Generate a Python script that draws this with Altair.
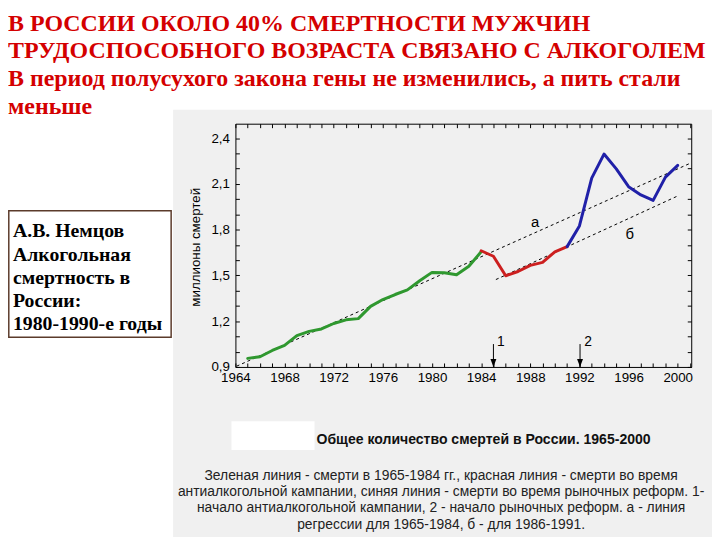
import altair as alt
import pandas as pd

# ---------------- data ----------------
years_green = list(range(1965, 1985))
deaths_green = [0.956, 0.967, 1.008, 1.041, 1.105, 1.133, 1.149, 1.185, 1.209, 1.217,
                1.297, 1.342, 1.375, 1.405, 1.465, 1.520, 1.518, 1.504, 1.560, 1.655]
years_red = list(range(1984, 1992))
deaths_red = [1.662, 1.626, 1.498, 1.526, 1.566, 1.586, 1.655, 1.689]
years_blue = list(range(1991, 2001))
deaths_blue = [1.689, 1.825, 2.138, 2.296, 2.199, 2.082, 2.028, 1.992, 2.145, 2.222]

reg_a_years = [1964.1, 2001.0]
reg_a_vals = [0.905, 2.235]
reg_b_years = [1985.2, 2000.1]
reg_b_vals = [1.473, 2.025]

reg_labels = ["а", "б"]
reg_label_years = [1988.4, 1996.1]
reg_label_vals = [1.852, 1.774]

arrow_years = [1985.0, 1992.05]
arrow_top = [1.05, 1.05]
arrow_bottom = [0.9, 0.9]
arrow_labels = ["1", "2"]
arrow_label_years = [1985.6, 1992.7]
arrow_label_vals = [1.062, 1.062]

x_label_years = [1964, 1968, 1972, 1976, 1980, 1984, 1988, 1992, 1996, 2000]
x_tick_years = list(range(1964, 2002))
y_label_vals = [0.9, 1.2, 1.5, 1.8, 2.1, 2.4]
y_tick_vals = [0.9, 1.0, 1.1, 1.2, 1.3, 1.4, 1.5, 1.6, 1.7, 1.8, 1.9, 2.0, 2.1, 2.2, 2.3, 2.4]

title_lines = [
    "В РОССИИ ОКОЛО 40% СМЕРТНОСТИ  МУЖЧИН",
    "ТРУДОСПОСОБНОГО ВОЗРАСТА СВЯЗАНО С АЛКОГОЛЕМ",
    "В период полусухого закона гены не изменились, а пить стали",
    "меньше",
]
box_lines = ["А.В. Немцов", "Алкогольная", "смертность в", "России:", "1980-1990-е годы"]
y_title = "миллионы смертей"
caption_title = "Общее количество смертей в России. 1965-2000"
caption_lines = [
    "Зеленая линия - смерти в 1965-1984 гг., красная линия - смерти во время",
    "антиалкогольной кампании, синяя линия - смерти во время рыночных реформ. 1-",
    "начало антиалкогольной кампании, 2 - начало рыночных реформ. а - линия",
    "регрессии для 1965-1984, б - для 1986-1991.",
]

# ---------------- layout ----------------
W, H = 461, 246
PL, PT = 230, 114
OX, OY = PL + 8, PT + 8   # page position of plot origin


def px(X):
    return X - OX


def py(Y):
    return Y - OY


xs = alt.Scale(domain=[1964, 2001.1], nice=False, zero=False)
ys = alt.Scale(domain=[0.9, 2.495], nice=False, zero=False)
SANS = "Liberation Sans"
SERIF = "Liberation Serif"

one = pd.DataFrame({"k": [0]})


def XY(df, xaxis=None, yaxis=None, xf="year", yf="val"):
    return dict(x=alt.X(f"{xf}:Q", scale=xs, axis=xaxis),
                y=alt.Y(f"{yf}:Q", scale=ys, axis=yaxis))


common = dict(grid=False, title=None, zindex=1)

# background panel
panel = alt.Chart(one).mark_rect(fill="#f0f0f0").encode(
    x=alt.value(px(175)), x2=alt.value(px(720)), y=alt.value(py(108)), y2=alt.value(py(540)))
white_box = alt.Chart(one).mark_rect(fill="white").encode(
    x=alt.value(px(234)), x2=alt.value(px(318)), y=alt.value(py(423)), y2=alt.value(py(452)))
left_box = alt.Chart(one).mark_rect(fill="white", stroke="#5b3b2b", strokeWidth=1.5).encode(
    x=alt.value(px(8.8)), x2=alt.value(px(173)), y=alt.value(py(210)), y2=alt.value(py(338)))

title_txt = alt.Chart(one).mark_text(
    text=title_lines, font=SERIF, fontWeight="bold", fontSize=24.2, color="#d40000",
    align="left", baseline="alphabetic", lineHeight=28).encode(
    x=alt.value(px(8)), y=alt.value(py(28)))
box_txt = alt.Chart(one).mark_text(
    text=box_lines, font=SERIF, fontWeight="bold", fontSize=20, color="black",
    align="left", baseline="alphabetic", lineHeight=23.5).encode(
    x=alt.value(px(13)), y=alt.value(py(237)))
ytitle_txt = alt.Chart(one).mark_text(
    text=y_title, font=SANS, fontSize=13.5, color="black", angle=270,
    align="center", baseline="middle").encode(
    x=alt.value(px(198)), y=alt.value(py(247)))
cap_title_txt = alt.Chart(one).mark_text(
    text=caption_title, font=SANS, fontWeight="bold", fontSize=14.2, color="#111",
    align="left", baseline="alphabetic").encode(
    x=alt.value(px(320)), y=alt.value(py(446)))
cap_txt = alt.Chart(one).mark_text(
    text=caption_lines, font=SANS, fontSize=14, color="#222",
    align="center", baseline="alphabetic", lineHeight=16.5).encode(
    x=alt.value(px(446)), y=alt.value(py(482)))

dummy = pd.DataFrame({"year": [years_green[0]], "val": [deaths_green[0]]})


def axis_layer(xaxis=None, yaxis=None):
    return alt.Chart(dummy).mark_point(opacity=0).encode(**XY(dummy, xaxis, yaxis))


ax_bottom = axis_layer(xaxis=alt.Axis(
    orient="bottom", values=x_label_years, format="d", domain=True, domainColor="black",
    domainWidth=1, ticks=False, labelFont=SANS, labelFontSize=13.5, labelColor="black",
    labelPadding=4, labelFlush=False, labelOverlap=False, **common))
ax_bottom_ticks = axis_layer(xaxis=alt.Axis(
    orient="top", offset=-H, values=x_tick_years, labels=False, domain=False, ticks=True,
    tickSize=4, tickColor="black", **common))
ax_top = axis_layer(xaxis=alt.Axis(
    orient="top", domain=True, domainColor="black", labels=False, ticks=False, **common))
ax_top_ticks = axis_layer(xaxis=alt.Axis(
    orient="bottom", offset=-H, values=x_tick_years, labels=False, domain=False, ticks=True,
    tickSize=4, tickColor="black", **common))
ax_left = axis_layer(yaxis=alt.Axis(
    orient="left", values=y_label_vals, domain=True, domainColor="black", ticks=False,
    labelExpr="replace(format(datum.value, '.1f'), '.', ',')", labelFont=SANS,
    labelFontSize=13.5, labelColor="black", labelPadding=6, labelFlush=False,
    labelOverlap=False, **common))
ax_left_ticks = axis_layer(yaxis=alt.Axis(
    orient="right", offset=-W, values=y_tick_vals, labels=False, domain=False, ticks=True,
    tickSize=4, tickColor="black", **common))
ax_right = axis_layer(yaxis=alt.Axis(
    orient="right", domain=True, domainColor="black", labels=False, ticks=False, **common))
ax_right_ticks = axis_layer(yaxis=alt.Axis(
    orient="left", offset=-W, values=y_tick_vals, labels=False, domain=False, ticks=True,
    tickSize=4, tickColor="black", **common))


def reg_line(yrs, vals):
    df = pd.DataFrame({"year": yrs, "val": vals})
    return alt.Chart(df).mark_line(color="black", strokeWidth=1, strokeDash=[3, 3]).encode(**XY(df))


def series(yrs, vals, color):
    df = pd.DataFrame({"year": yrs, "val": vals})
    return alt.Chart(df).mark_line(color=color, strokeWidth=3, strokeJoin="round",
                                   strokeCap="round").encode(**XY(df))


arrows_df = pd.DataFrame({"year": arrow_years, "val": arrow_top, "val2": arrow_bottom})
arrow_shaft = alt.Chart(arrows_df).mark_rule(color="black", strokeWidth=1).encode(
    **XY(arrows_df), y2="val2:Q")
arrow_head = alt.Chart(arrows_df).mark_point(
    shape="M -0.75 -2 L 0.75 -2 L 0 0 Z", filled=True, color="black", size=64, opacity=1).encode(
    x=alt.X("year:Q", scale=xs, axis=None), y=alt.Y("val2:Q", scale=ys, axis=None))

arrow_lab_df = pd.DataFrame({"year": arrow_label_years, "val": arrow_label_vals, "label": arrow_labels})
arrow_lab = alt.Chart(arrow_lab_df).mark_text(font=SANS, fontSize=14, color="black").encode(
    **XY(arrow_lab_df), text="label:N")
reg_lab_df = pd.DataFrame({"year": reg_label_years, "val": reg_label_vals, "label": reg_labels})
reg_lab = alt.Chart(reg_lab_df).mark_text(font=SANS, fontSize=15, color="black").encode(
    **XY(reg_lab_df), text="label:N")

chart = alt.layer(
    panel, white_box, left_box,
    title_txt, box_txt, ytitle_txt, cap_title_txt, cap_txt,
    reg_line(reg_a_years, reg_a_vals), reg_line(reg_b_years, reg_b_vals),
    series(years_green, deaths_green, "#2f982f"),
    series(years_red, deaths_red, "#cc1f1f"),
    series(years_blue, deaths_blue, "#2020a8"),
    arrow_shaft, arrow_head, arrow_lab, reg_lab,
    ax_bottom, ax_bottom_ticks, ax_top, ax_top_ticks,
    ax_left, ax_left_ticks, ax_right, ax_right_ticks,
).resolve_axis(x="independent", y="independent").properties(
    width=W, height=H,
    autosize=alt.AutoSizeParams(type="none"),
    padding={"left": PL, "top": PT, "right": 712 - PL - W, "bottom": 532 - PT - H},
    background="white",
).configure_view(stroke=None)

chart.save("out.html", embed_options={"renderer": "svg", "actions": False})
